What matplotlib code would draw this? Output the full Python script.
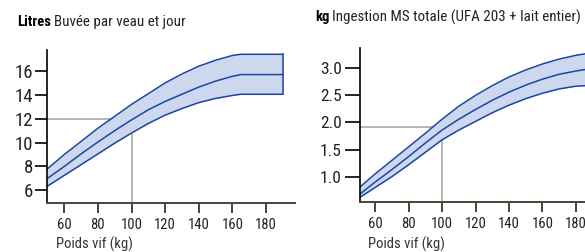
import numpy as np
import matplotlib
matplotlib.use("Agg")
import matplotlib.pyplot as plt

plt.rcParams['font.family'] = ['Roboto Condensed', 'Archivo Narrow', 'Asap Condensed', 'DejaVu Sans']

# water drunk per calf and day (litres)
poids_eau = [50, 60, 70, 80, 90, 100, 110, 120, 130, 140, 150, 160, 165, 190]
eau_haut = [7.8, 9.0, 10.1, 11.2, 12.2, 13.2, 14.1, 15.0, 15.75, 16.4, 16.9, 17.3, 17.4, 17.4]
eau_moy = [7.0, 8.0, 9.05, 10.05, 11.0, 11.9, 12.75, 13.45, 14.05, 14.65, 15.15, 15.55, 15.7, 15.7]
eau_bas = [6.35, 7.25, 8.15, 9.05, 9.95, 10.8, 11.6, 12.3, 12.85, 13.35, 13.7, 13.95, 14.05, 14.05]

# total DM intake (kg)
poids_ms = [51, 60, 70, 80, 90, 100, 110, 120, 130, 140, 150, 160, 170, 180, 186]
ms_haut = [0.81, 1.05, 1.3, 1.55, 1.8, 2.06, 2.3, 2.5, 2.68, 2.84, 2.97, 3.08, 3.17, 3.24, 3.27]
ms_moy = [0.68, 0.9, 1.13, 1.37, 1.62, 1.86, 2.06, 2.24, 2.41, 2.56, 2.69, 2.8, 2.89, 2.95, 2.98]
ms_bas = [0.62, 0.8, 1.0, 1.22, 1.45, 1.68, 1.86, 2.02, 2.18, 2.32, 2.44, 2.54, 2.62, 2.67, 2.68]

xticks = [60, 80, 100, 120, 140, 160, 180]
yticks_eau = [6, 8, 10, 12, 14, 16]
yticks_ms = [1.0, 1.5, 2.0, 2.5, 3.0]
repere_eau = (100, 12)
repere_ms = (100, 1.92)

bleu = '#1a46a6'
fond = '#cdd8ee'
gris = '#b4b4b4'
brun = '#4a4536'

fig = plt.figure(figsize=(5.85, 2.52), dpi=100)
ax1 = fig.add_axes([0.0803, 0.1956, 0.424, 0.606])
ax2 = fig.add_axes([0.6154, 0.1984, 0.3846, 0.611])


def dessine(ax, x, haut, moy, bas, repere, fermer):
    ax.fill_between(x, bas, haut, color=fond, lw=0)
    for s in (haut, moy, bas):
        ax.plot(x, s, color=bleu, lw=1.1)
    if fermer:
        ax.plot([x[-1], x[-1]], [bas[-1], haut[-1]], color=bleu, lw=1.1)
    xr, yr = repere
    ax.plot([ax.get_xlim()[0], xr, xr], [yr, yr, ax.get_ylim()[0]],
            color=gris, lw=1.4, zorder=0.5, clip_on=False)
    ax.set_xticks(xticks)
    for s in ('top', 'right'):
        ax.spines[s].set_visible(False)
    ax.spines['left'].set_color('black')
    ax.spines['left'].set_linewidth(1.2)
    ax.spines['bottom'].set_color(brun)
    ax.spines['bottom'].set_linewidth(1.4)
    ax.tick_params(axis='x', length=7, width=1.4, color=brun, pad=4,
                   labelsize=10.5, labelcolor='#222222')
    ax.tick_params(axis='y', length=9, width=1.2, color='black', pad=1,
                   labelcolor='#222222')


ax1.set_xlim(49.7, 197.3)
ax1.set_ylim(4.96, 17.76)
dessine(ax1, poids_eau, eau_haut, eau_moy, eau_bas, repere_eau, True)
ax1.set_yticks(yticks_eau)
ax1.tick_params(axis='y', labelsize=13.5)

ax2.set_xlim(51.0, 185.4)
ax2.set_ylim(0.533, 3.374)
dessine(ax2, poids_ms, ms_haut, ms_moy, ms_bas, repere_ms, False)
ax2.set_yticks(yticks_ms)
ax2.set_yticklabels(['%.1f' % v for v in yticks_ms])
ax2.tick_params(axis='y', labelsize=12.5, length=11, pad=2)

fig.text(56 / 585, 1 - 244.5 / 252, 'Poids vif (kg)', fontsize=10.5, color='#333333', va='center')
fig.text(368 / 585, 1 - 244.5 / 252, 'Poids vif (kg)', fontsize=10.5, color='#333333', va='center')


def titre(x, y, gras, reste):
    r = fig.canvas.get_renderer()
    t = fig.text(x / 585, 1 - y / 252, gras, fontsize=10.5, fontweight='bold', va='center')
    w = t.get_window_extent(renderer=r).width
    fig.text((x + w + 3) / 585, 1 - y / 252, reste, fontsize=10.8, va='center', color='#222222')


titre(17, 22, 'Litres', 'Buvée par veau et jour')
titre(315, 17, 'kg', 'Ingestion MS totale (UFA 203 + lait entier)')

fig.savefig('out.png', dpi=100)
